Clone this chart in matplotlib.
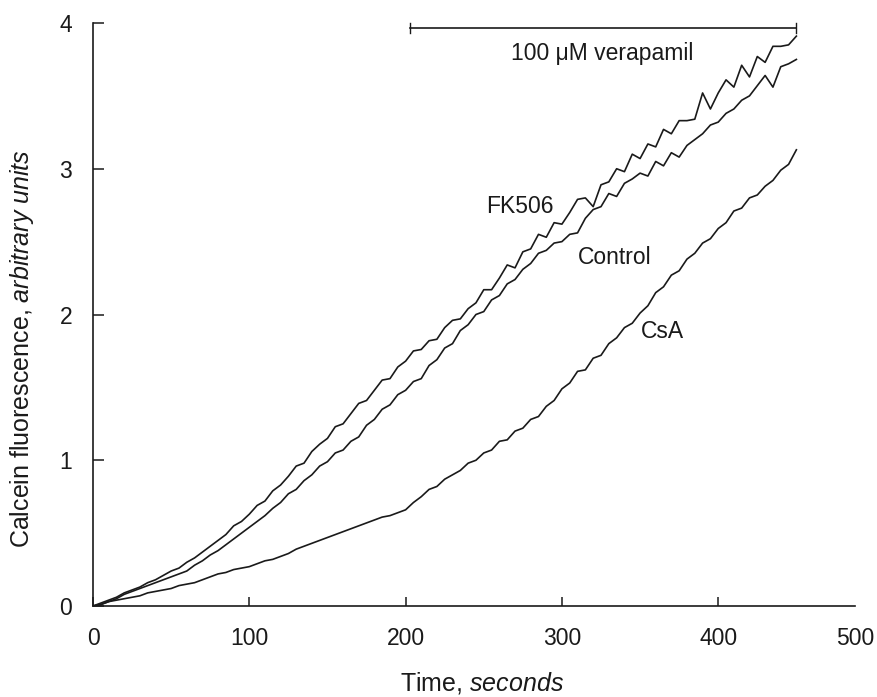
import matplotlib
matplotlib.use("Agg")
import matplotlib.pyplot as plt

plt.rcParams['font.family'] = ['Liberation Sans', 'DejaVu Sans']
plt.rcParams['mathtext.fontset'] = 'custom'
plt.rcParams['mathtext.rm'] = 'Liberation Sans'
plt.rcParams['mathtext.it'] = 'Liberation Sans:italic'

# time in seconds (5 s sampling)
time_s = list(range(0, 451, 5))

fk506 = [0.00, 0.02, 0.04, 0.06, 0.09, 0.11, 0.13, 0.16, 0.18, 0.21,
         0.24, 0.26, 0.30, 0.33, 0.37, 0.41, 0.45, 0.49, 0.55, 0.58,
         0.63, 0.69, 0.72, 0.79, 0.83, 0.89, 0.96, 0.98, 1.06, 1.11,
         1.15, 1.23, 1.25, 1.32, 1.39, 1.41, 1.48, 1.55, 1.56, 1.64,
         1.68, 1.75, 1.76, 1.82, 1.83, 1.91, 1.96, 1.97, 2.04, 2.08,
         2.17, 2.17, 2.25, 2.34, 2.32, 2.43, 2.45, 2.55, 2.53, 2.63,
         2.62, 2.70, 2.79, 2.80, 2.74, 2.89, 2.91, 3.00, 2.98, 3.10,
         3.07, 3.17, 3.15, 3.27, 3.24, 3.33, 3.33, 3.34, 3.52, 3.41,
         3.52, 3.61, 3.56, 3.71, 3.63, 3.77, 3.73, 3.84, 3.84, 3.85,
         3.91]

control = [0.00, 0.01, 0.03, 0.05, 0.08, 0.10, 0.12, 0.14, 0.16, 0.18,
           0.20, 0.22, 0.24, 0.28, 0.31, 0.35, 0.38, 0.42, 0.46, 0.50,
           0.54, 0.58, 0.62, 0.67, 0.71, 0.77, 0.80, 0.86, 0.90, 0.96,
           0.99, 1.05, 1.07, 1.13, 1.16, 1.24, 1.28, 1.35, 1.38, 1.45,
           1.48, 1.54, 1.56, 1.65, 1.69, 1.77, 1.80, 1.89, 1.93, 2.00,
           2.02, 2.10, 2.13, 2.21, 2.24, 2.31, 2.35, 2.42, 2.44, 2.49,
           2.50, 2.55, 2.56, 2.66, 2.72, 2.74, 2.83, 2.81, 2.90, 2.93,
           2.97, 2.95, 3.05, 3.02, 3.11, 3.08, 3.16, 3.20, 3.24, 3.30,
           3.32, 3.38, 3.41, 3.47, 3.50, 3.57, 3.64, 3.56, 3.70, 3.72,
           3.75]

csa = [0.00, 0.01, 0.03, 0.04, 0.05, 0.06, 0.07, 0.09, 0.10, 0.11,
       0.12, 0.14, 0.15, 0.16, 0.18, 0.20, 0.22, 0.23, 0.25, 0.26,
       0.27, 0.29, 0.31, 0.32, 0.34, 0.36, 0.39, 0.41, 0.43, 0.45,
       0.47, 0.49, 0.51, 0.53, 0.55, 0.57, 0.59, 0.61, 0.62, 0.64,
       0.66, 0.71, 0.75, 0.80, 0.82, 0.87, 0.90, 0.93, 0.98, 1.00,
       1.05, 1.07, 1.13, 1.14, 1.20, 1.22, 1.28, 1.30, 1.37, 1.41,
       1.49, 1.53, 1.61, 1.62, 1.70, 1.72, 1.80, 1.84, 1.91, 1.94,
       2.01, 2.06, 2.15, 2.19, 2.27, 2.30, 2.38, 2.42, 2.49, 2.52,
       2.59, 2.63, 2.71, 2.73, 2.80, 2.82, 2.88, 2.92, 2.99, 3.03,
       3.13]

series_labels = ["FK506", "Control", "CsA"]
label_pos = [(273, 2.74), (334, 2.39), (364, 1.88)]

bar_start, bar_end, bar_level = 203, 450, 3.965
bar_text = "100 \u03bcM verapamil"

x_ticks = [0, 100, 200, 300, 400, 487.5]
x_tick_labels = ["0", "100", "200", "300", "400", "500"]
y_ticks = [0, 1, 2, 3, 4]

FS = 16.5
INK = '#1a1a1a'

fig = plt.figure(figsize=(8.77, 6.97), dpi=100)
ax = fig.add_axes([93/877, 1-606/697, (855-93)/877, (606-23)/697])

for ys in (fk506, control, csa):
    ax.plot(time_s, ys, color=INK, lw=1.2)

for name, (tx, ty) in zip(series_labels, label_pos):
    ax.text(tx, ty, name, ha='center', va='center', fontsize=FS, color=INK)

ax.plot([bar_start, bar_end], [bar_level, bar_level], color=INK, lw=1.2, clip_on=False)
for bx in (bar_start, bar_end):
    ax.plot([bx, bx], [bar_level - 0.035, bar_level + 0.035], color=INK, lw=1.0, clip_on=False)
ax.text(326, 3.79, bar_text, ha='center', va='center', fontsize=FS, color=INK)

ax.set_xlim(0, 487.5)
ax.set_ylim(0, 4)
ax.set_xticks(x_ticks)
ax.set_xticklabels(x_tick_labels)
ax.set_yticks(y_ticks)
ax.xaxis.get_major_ticks()[-1].tick1line.set_visible(False)

for s in ('top', 'right'):
    ax.spines[s].set_visible(False)
for s in ('left', 'bottom'):
    ax.spines[s].set_linewidth(1.2)
    ax.spines[s].set_color(INK)

ax.tick_params(axis='y', direction='in', length=8, width=1.1, pad=15, labelsize=FS, colors=INK)
ax.tick_params(axis='x', direction='in', length=6.5, width=1.1, pad=15, labelsize=FS, colors=INK)

fig.text(22/877, 1-349/697, r"Calcein fluorescence, $\it{arbitrary\ units}$",
         rotation=90, ha='center', va='center', fontsize=18, color=INK)
fig.text(482/877, 1-683/697, r"Time, $\it{seconds}$",
         ha='center', va='center', fontsize=18, color=INK)

fig.savefig("out.png", dpi=100, facecolor='white')
